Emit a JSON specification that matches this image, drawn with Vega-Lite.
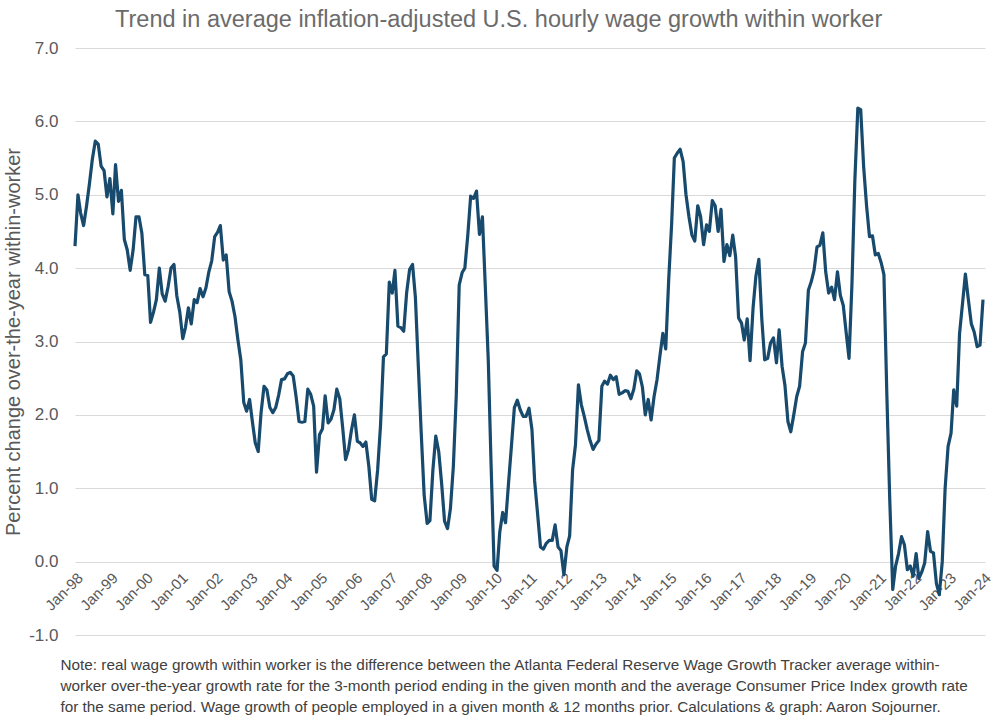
{
  "$schema": "https://vega.github.io/schema/vega-lite/v6.json",
  "width": 910,
  "height": 587,
  "autosize": "none",
  "padding": {"left": 75, "top": 48, "right": 15, "bottom": 88},
  "background": "white",
  "config": {
    "font": "Liberation Sans",
    "view": {"stroke": null}
  },
  "title": {
    "text": "Trend in average inflation-adjusted U.S. hourly wage growth within worker",
    "fontSize": 23.5,
    "fontWeight": "normal",
    "color": "#6b6b6b",
    "anchor": "middle",
    "frame": "bounds",
    "offset": 8
  },
  "data": {
    "values": [
      {"d":"1998-01","v":4.30},{"d":"1998-02","v":5.00},{"d":"1998-03","v":4.75},{"d":"1998-04","v":4.58},{"d":"1998-05","v":4.84},{"d":"1998-06","v":5.15},{"d":"1998-07","v":5.48},{"d":"1998-08","v":5.73},{"d":"1998-09","v":5.69},{"d":"1998-10","v":5.39},{"d":"1998-11","v":5.33},{"d":"1998-12","v":4.97},
      {"d":"1999-01","v":5.22},{"d":"1999-02","v":4.74},{"d":"1999-03","v":5.41},{"d":"1999-04","v":4.91},{"d":"1999-05","v":5.06},{"d":"1999-06","v":4.39},{"d":"1999-07","v":4.25},{"d":"1999-08","v":3.97},{"d":"1999-09","v":4.25},{"d":"1999-10","v":4.70},{"d":"1999-11","v":4.70},{"d":"1999-12","v":4.48},
      {"d":"2000-01","v":3.91},{"d":"2000-02","v":3.90},{"d":"2000-03","v":3.26},{"d":"2000-04","v":3.40},{"d":"2000-05","v":3.57},{"d":"2000-06","v":4.00},{"d":"2000-07","v":3.65},{"d":"2000-08","v":3.55},{"d":"2000-09","v":3.75},{"d":"2000-10","v":4.00},{"d":"2000-11","v":4.05},{"d":"2000-12","v":3.62},
      {"d":"2001-01","v":3.40},{"d":"2001-02","v":3.04},{"d":"2001-03","v":3.19},{"d":"2001-04","v":3.46},{"d":"2001-05","v":3.24},{"d":"2001-06","v":3.57},{"d":"2001-07","v":3.53},{"d":"2001-08","v":3.72},{"d":"2001-09","v":3.61},{"d":"2001-10","v":3.73},{"d":"2001-11","v":3.95},{"d":"2001-12","v":4.10},
      {"d":"2002-01","v":4.43},{"d":"2002-02","v":4.49},{"d":"2002-03","v":4.58},{"d":"2002-04","v":4.11},{"d":"2002-05","v":4.18},{"d":"2002-06","v":3.68},{"d":"2002-07","v":3.55},{"d":"2002-08","v":3.34},{"d":"2002-09","v":3.02},{"d":"2002-10","v":2.75},{"d":"2002-11","v":2.17},{"d":"2002-12","v":2.05},
      {"d":"2003-01","v":2.21},{"d":"2003-02","v":1.89},{"d":"2003-03","v":1.62},{"d":"2003-04","v":1.50},{"d":"2003-05","v":2.03},{"d":"2003-06","v":2.39},{"d":"2003-07","v":2.34},{"d":"2003-08","v":2.10},{"d":"2003-09","v":2.03},{"d":"2003-10","v":2.10},{"d":"2003-11","v":2.27},{"d":"2003-12","v":2.48},
      {"d":"2004-01","v":2.49},{"d":"2004-02","v":2.56},{"d":"2004-03","v":2.58},{"d":"2004-04","v":2.53},{"d":"2004-05","v":2.25},{"d":"2004-06","v":1.91},{"d":"2004-07","v":1.90},{"d":"2004-08","v":1.91},{"d":"2004-09","v":2.35},{"d":"2004-10","v":2.28},{"d":"2004-11","v":2.12},{"d":"2004-12","v":1.22},
      {"d":"2005-01","v":1.73},{"d":"2005-02","v":1.81},{"d":"2005-03","v":2.26},{"d":"2005-04","v":1.89},{"d":"2005-05","v":1.94},{"d":"2005-06","v":2.07},{"d":"2005-07","v":2.35},{"d":"2005-08","v":2.22},{"d":"2005-09","v":1.82},{"d":"2005-10","v":1.39},{"d":"2005-11","v":1.53},{"d":"2005-12","v":1.79},
      {"d":"2006-01","v":2.00},{"d":"2006-02","v":1.64},{"d":"2006-03","v":1.62},{"d":"2006-04","v":1.57},{"d":"2006-05","v":1.63},{"d":"2006-06","v":1.30},{"d":"2006-07","v":0.85},{"d":"2006-08","v":0.83},{"d":"2006-09","v":1.25},{"d":"2006-10","v":1.85},{"d":"2006-11","v":2.79},{"d":"2006-12","v":2.83},
      {"d":"2007-01","v":3.81},{"d":"2007-02","v":3.66},{"d":"2007-03","v":3.97},{"d":"2007-04","v":3.21},{"d":"2007-05","v":3.19},{"d":"2007-06","v":3.14},{"d":"2007-07","v":3.66},{"d":"2007-08","v":3.98},{"d":"2007-09","v":4.05},{"d":"2007-10","v":3.60},{"d":"2007-11","v":2.65},{"d":"2007-12","v":1.75},
      {"d":"2008-01","v":0.90},{"d":"2008-02","v":0.52},{"d":"2008-03","v":0.56},{"d":"2008-04","v":1.25},{"d":"2008-05","v":1.71},{"d":"2008-06","v":1.50},{"d":"2008-07","v":1.07},{"d":"2008-08","v":0.55},{"d":"2008-09","v":0.45},{"d":"2008-10","v":0.72},{"d":"2008-11","v":1.30},{"d":"2008-12","v":2.25},
      {"d":"2009-01","v":3.77},{"d":"2009-02","v":3.94},{"d":"2009-03","v":4.00},{"d":"2009-04","v":4.45},{"d":"2009-05","v":4.98},{"d":"2009-06","v":4.95},{"d":"2009-07","v":5.05},{"d":"2009-08","v":4.46},{"d":"2009-09","v":4.70},{"d":"2009-10","v":3.75},{"d":"2009-11","v":2.75},{"d":"2009-12","v":1.30},
      {"d":"2010-01","v":-0.06},{"d":"2010-02","v":-0.12},{"d":"2010-03","v":0.40},{"d":"2010-04","v":0.67},{"d":"2010-05","v":0.53},{"d":"2010-06","v":1.07},{"d":"2010-07","v":1.57},{"d":"2010-08","v":2.10},{"d":"2010-09","v":2.20},{"d":"2010-10","v":2.07},{"d":"2010-11","v":1.98},{"d":"2010-12","v":1.98},
      {"d":"2011-01","v":2.09},{"d":"2011-02","v":1.80},{"d":"2011-03","v":1.10},{"d":"2011-04","v":0.65},{"d":"2011-05","v":0.20},{"d":"2011-06","v":0.17},{"d":"2011-07","v":0.25},{"d":"2011-08","v":0.29},{"d":"2011-09","v":0.29},{"d":"2011-10","v":0.50},{"d":"2011-11","v":0.20},{"d":"2011-12","v":0.15},
      {"d":"2012-01","v":-0.18},{"d":"2012-02","v":0.20},{"d":"2012-03","v":0.35},{"d":"2012-04","v":1.25},{"d":"2012-05","v":1.59},{"d":"2012-06","v":2.41},{"d":"2012-07","v":2.14},{"d":"2012-08","v":1.98},{"d":"2012-09","v":1.80},{"d":"2012-10","v":1.65},{"d":"2012-11","v":1.53},{"d":"2012-12","v":1.60},
      {"d":"2013-01","v":1.65},{"d":"2013-02","v":2.39},{"d":"2013-03","v":2.46},{"d":"2013-04","v":2.42},{"d":"2013-05","v":2.54},{"d":"2013-06","v":2.48},{"d":"2013-07","v":2.52},{"d":"2013-08","v":2.28},{"d":"2013-09","v":2.30},{"d":"2013-10","v":2.33},{"d":"2013-11","v":2.32},{"d":"2013-12","v":2.22},
      {"d":"2014-01","v":2.35},{"d":"2014-02","v":2.60},{"d":"2014-03","v":2.56},{"d":"2014-04","v":2.38},{"d":"2014-05","v":2.00},{"d":"2014-06","v":2.21},{"d":"2014-07","v":1.93},{"d":"2014-08","v":2.25},{"d":"2014-09","v":2.48},{"d":"2014-10","v":2.80},{"d":"2014-11","v":3.11},{"d":"2014-12","v":2.90},
      {"d":"2015-01","v":3.84},{"d":"2015-02","v":4.61},{"d":"2015-03","v":5.50},{"d":"2015-04","v":5.57},{"d":"2015-05","v":5.62},{"d":"2015-06","v":5.45},{"d":"2015-07","v":5.00},{"d":"2015-08","v":4.70},{"d":"2015-09","v":4.45},{"d":"2015-10","v":4.37},{"d":"2015-11","v":4.85},{"d":"2015-12","v":4.70},
      {"d":"2016-01","v":4.32},{"d":"2016-02","v":4.59},{"d":"2016-03","v":4.50},{"d":"2016-04","v":4.92},{"d":"2016-05","v":4.85},{"d":"2016-06","v":4.50},{"d":"2016-07","v":4.80},{"d":"2016-08","v":4.09},{"d":"2016-09","v":4.32},{"d":"2016-10","v":4.17},{"d":"2016-11","v":4.45},{"d":"2016-12","v":4.15},
      {"d":"2017-01","v":3.32},{"d":"2017-02","v":3.25},{"d":"2017-03","v":3.02},{"d":"2017-04","v":3.31},{"d":"2017-05","v":2.74},{"d":"2017-06","v":3.45},{"d":"2017-07","v":3.89},{"d":"2017-08","v":4.12},{"d":"2017-09","v":3.30},{"d":"2017-10","v":2.75},{"d":"2017-11","v":2.77},{"d":"2017-12","v":2.98},
      {"d":"2018-01","v":3.05},{"d":"2018-02","v":2.71},{"d":"2018-03","v":3.16},{"d":"2018-04","v":2.66},{"d":"2018-05","v":2.40},{"d":"2018-06","v":1.91},{"d":"2018-07","v":1.77},{"d":"2018-08","v":2.00},{"d":"2018-09","v":2.25},{"d":"2018-10","v":2.39},{"d":"2018-11","v":2.86},{"d":"2018-12","v":2.98},
      {"d":"2019-01","v":3.70},{"d":"2019-02","v":3.82},{"d":"2019-03","v":3.97},{"d":"2019-04","v":4.29},{"d":"2019-05","v":4.31},{"d":"2019-06","v":4.48},{"d":"2019-07","v":3.95},{"d":"2019-08","v":3.66},{"d":"2019-09","v":3.74},{"d":"2019-10","v":3.57},{"d":"2019-11","v":3.95},{"d":"2019-12","v":3.63},
      {"d":"2020-01","v":3.49},{"d":"2020-02","v":3.11},{"d":"2020-03","v":2.77},{"d":"2020-04","v":3.80},{"d":"2020-05","v":5.20},{"d":"2020-06","v":6.18},{"d":"2020-07","v":6.16},{"d":"2020-08","v":5.38},{"d":"2020-09","v":4.84},{"d":"2020-10","v":4.43},{"d":"2020-11","v":4.44},{"d":"2020-12","v":4.18},
      {"d":"2021-01","v":4.20},{"d":"2021-02","v":4.07},{"d":"2021-03","v":3.91},{"d":"2021-04","v":2.25},{"d":"2021-05","v":0.84},{"d":"2021-06","v":-0.38},{"d":"2021-07","v":-0.06},{"d":"2021-08","v":0.11},{"d":"2021-09","v":0.34},{"d":"2021-10","v":0.23},{"d":"2021-11","v":-0.11},{"d":"2021-12","v":-0.06},
      {"d":"2022-01","v":-0.20},{"d":"2022-02","v":0.11},{"d":"2022-03","v":-0.23},{"d":"2022-04","v":-0.14},{"d":"2022-05","v":-0.02},{"d":"2022-06","v":0.41},{"d":"2022-07","v":0.14},{"d":"2022-08","v":0.12},{"d":"2022-09","v":-0.30},{"d":"2022-10","v":-0.45},{"d":"2022-11","v":0.00},{"d":"2022-12","v":1.00},
      {"d":"2023-01","v":1.57},{"d":"2023-02","v":1.75},{"d":"2023-03","v":2.34},{"d":"2023-04","v":2.12},{"d":"2023-05","v":3.11},{"d":"2023-06","v":3.52},{"d":"2023-07","v":3.92},{"d":"2023-08","v":3.57},{"d":"2023-09","v":3.24},{"d":"2023-10","v":3.13},{"d":"2023-11","v":2.93},{"d":"2023-12","v":2.95},
      {"d":"2024-01","v":3.57}
    ]
  },
  "mark": {"type": "line", "color": "#174a6c", "strokeWidth": 3.2, "strokeJoin": "round"},
  "encoding": {
    "x": {
      "field": "d",
      "type": "temporal",
      "scale": {
        "type": "utc",
        "domain": [
          {"year": 1998, "month": 1, "date": 1, "utc": true},
          {"year": 2024, "month": 1, "date": 22, "utc": true}
        ]
      },
      "axis": {
        "format": "%b-%y",
        "tickCount": {"interval": "year", "step": 1},
        "offset": -73,
        "labelAngle": -45,
        "labelFontSize": 15,
        "labelColor": "#595959",
        "labelPadding": 8,
        "labelOverlap": false,
        "labelFlush": false,
        "grid": false,
        "ticks": false,
        "domain": false,
        "title": [
          "Note: real wage growth within worker is the difference between the Atlanta Federal Reserve Wage Growth Tracker average within-",
          "worker over-the-year growth rate for the 3-month period ending in the given month and the average Consumer Price Index growth rate",
          "for the same period. Wage growth of people employed in a given month & 12 months prior. Calculations & graph: Aaron Sojourner."
        ],
        "titleFontSize": 15.3,
        "titleFontWeight": "normal",
        "titleColor": "#404040",
        "titleAnchor": "start",
        "titleAlign": "left",
        "titleBaseline": "top",
        "titleX": -15,
        "titleY": 95,
        "titleLineHeight": 21
      }
    },
    "y": {
      "field": "v",
      "type": "quantitative",
      "scale": {"domain": [-1, 7], "nice": false, "zero": false},
      "axis": {
        "values": [-1, 0, 1, 2, 3, 4, 5, 6, 7],
        "format": ".1f",
        "labelExpr": "replace(datum.label, '\u2212', '-')",
        "labelFontSize": 17,
        "labelColor": "#595959",
        "labelPadding": 17,
        "grid": true,
        "gridColor": "#d9d9d9",
        "gridWidth": 1,
        "ticks": false,
        "domain": false,
        "title": "Percent change over-the-year within-worker",
        "titleFontSize": 20,
        "titleFontWeight": "normal",
        "titleColor": "#595959",
        "titlePadding": 5
      }
    }
  }
}
